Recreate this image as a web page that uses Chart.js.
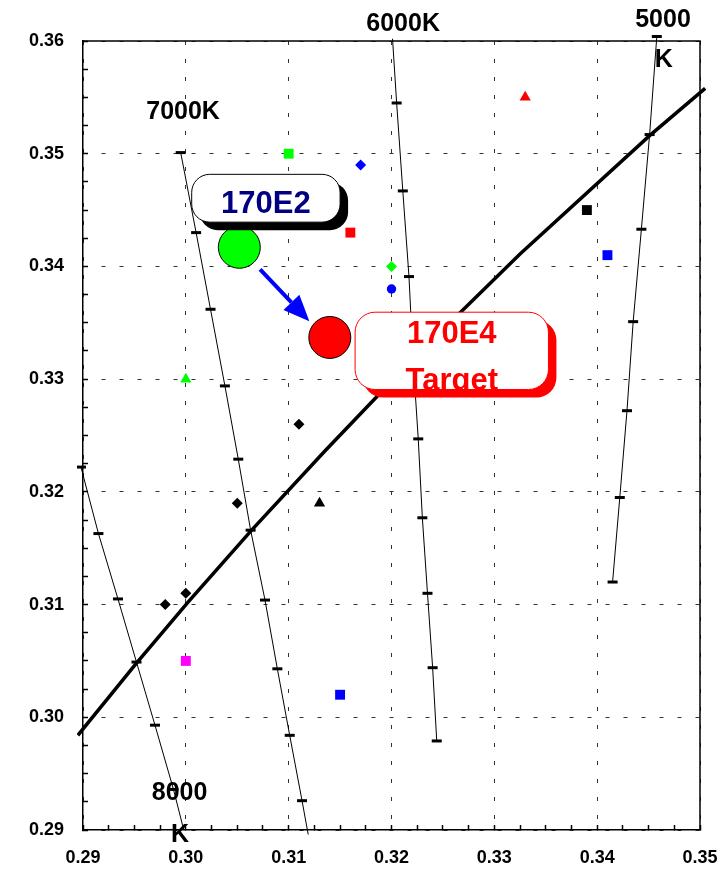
<!DOCTYPE html>
<html>
<head>
<meta charset="utf-8">
<script src="https://cdn.jsdelivr.net/npm/chart.js@4"></script>
<style>
  html, body { margin: 0; padding: 0; background: #fff; }
</style>
</head>
<body>
<canvas id="myChart" width="724" height="871"></canvas>
<script>
// axis ranges (CIE x, y)
const xRange = [0.29, 0.35];
const yRange = [0.29, 0.36];

// Planckian locus
const locusX = [0.2895, 0.2952, 0.3003, 0.3064, 0.3135, 0.3221, 0.3325, 0.3451, 0.3505];
const locusY = [0.2984, 0.3048, 0.3103, 0.3166, 0.3236, 0.3318, 0.3411, 0.3516, 0.3558];

// isotemperature lines
const iso8000X = [0.2898, 0.2915, 0.2934, 0.2952, 0.2970, 0.2988, 0.2998];
const iso8000Y = [0.3222, 0.3163, 0.3105, 0.3049, 0.2993, 0.2936, 0.2900];
const iso7000X = [0.2995, 0.3010, 0.3024, 0.3038, 0.3051, 0.3063, 0.3077, 0.3089, 0.3101, 0.3113, 0.3119];
const iso7000Y = [0.3501, 0.3430, 0.3362, 0.3294, 0.3229, 0.3166, 0.3104, 0.3043, 0.2984, 0.2926, 0.2896];
const iso6000X = [0.3201, 0.3205, 0.3211, 0.3217, 0.3221, 0.3226, 0.3230, 0.3235, 0.3240, 0.3244];
const iso6000Y = [0.3602, 0.3545, 0.3467, 0.3391, 0.3317, 0.3247, 0.3177, 0.3110, 0.3044, 0.2979];
const iso5000X = [0.3458, 0.3451, 0.3443, 0.3435, 0.3429, 0.3422, 0.3415];
const iso5000Y = [0.3604, 0.3517, 0.3433, 0.3351, 0.3272, 0.3195, 0.3120];

// sample points by marker shape
const squareX = [0.310, 0.316, 0.339, 0.341, 0.300, 0.315];
const squareY = [0.350, 0.343, 0.345, 0.341, 0.305, 0.302];
const diamondX = [0.317, 0.320, 0.311, 0.305, 0.298, 0.300];
const diamondY = [0.349, 0.340, 0.326, 0.319, 0.310, 0.311];
const triangleX = [0.333, 0.300, 0.313];
const triangleY = [0.355, 0.330, 0.319];
const circleX = [0.320];
const circleY = [0.338];

// lamps: 170E2 -> 170E4 target
const lampNames = ['170E2', '170E4'];
const lampX = [0.3052, 0.3140];
const lampY = [0.3417, 0.3337];

// colours (style, kept apart from the values)
const squareColors = ['#00ff00', '#ff0000', '#000000', '#0000ff', '#ff00ff', '#0000ff'];
const diamondColors = ['#0000ff', '#00ff00', '#000000', '#000000', '#000000', '#000000'];
const triangleColors = ['#ff0000', '#00ff00', '#000000'];
const lampColors = ['#00ff00', '#ff0000'];

const FONT = "'Liberation Sans', Arial, sans-serif";
Chart.defaults.font.family = FONT;

const pts = (xs, ys) => xs.map((x, i) => ({ x: x, y: ys[i] }));
const isMajor = v => Math.abs(v * 100 - Math.round(v * 100)) < 1e-6;

// ends of isolines that carry no tick mark
function tickRadius(bare) {
    return c => bare.includes(c.dataIndex) ? 0 : 5;
}

function isoLine(xs, ys, bare) {
    return {
        data: pts(xs, ys),
        showLine: true,
        borderColor: '#000',
        borderWidth: 1,
        pointStyle: 'line',
        pointRadius: tickRadius(bare),
        pointBorderWidth: 3,
        pointBorderColor: '#000',
        clip: 6
    };
}

// everything that is not a data mark: frame, arrow, callouts, CCT labels
const overlay = {
    id: 'overlay',
    afterDatasetsDraw(chart) {
        const { ctx, scales: { x, y }, chartArea: a } = chart;
        const px = v => x.getPixelForValue(v);
        const py = v => y.getPixelForValue(v);
        ctx.save();

        // top and right frame
        ctx.strokeStyle = '#000';
        ctx.lineWidth = 1.5;
        ctx.beginPath();
        ctx.moveTo(a.left, a.top);
        ctx.lineTo(a.right, a.top);
        ctx.lineTo(a.right, a.bottom);
        ctx.stroke();

        // arrow from 170E2 to 170E4
        const x0 = px(0.30722), y0 = py(0.33973), x1 = px(0.31201), y1 = py(0.33514);
        const ang = Math.atan2(y1 - y0, x1 - x0);
        const headLen = 26, headW = 11;
        const bx = x1 - headLen * Math.cos(ang), by = y1 - headLen * Math.sin(ang);
        ctx.strokeStyle = '#0000ff';
        ctx.fillStyle = '#0000ff';
        ctx.lineWidth = 4;
        ctx.beginPath();
        ctx.moveTo(x0, y0);
        ctx.lineTo(bx, by);
        ctx.stroke();
        ctx.beginPath();
        ctx.moveTo(x1, y1);
        ctx.lineTo(bx + headW * Math.sin(ang), by - headW * Math.cos(ang));
        ctx.lineTo(bx - headW * Math.sin(ang), by + headW * Math.cos(ang));
        ctx.closePath();
        ctx.fill();

        // callout boxes
        const callouts = [
            { box: [0.30057, 0.34817, 0.31500, 0.34393], r: 18, color: '#000080', border: '#000', shadow: '#000',
              lines: [['170E2', 0.34477]] },
            { box: [0.31646, 0.33594, 0.33526, 0.32908], r: 20, color: '#ff0000', border: '#ff0000', shadow: '#ff0000',
              lines: [['170E4', 0.33322], ['Target', 0.32908]] }
        ];
        callouts.forEach(c => {
            const l = px(c.box[0]), t = py(c.box[1]), r = px(c.box[2]), b = py(c.box[3]);
            const w = r - l, h = b - t;
            ctx.fillStyle = c.shadow;
            ctx.beginPath();
            ctx.roundRect(l + 8, t + 8, w, h, c.r);
            ctx.fill();
            ctx.fillStyle = '#fff';
            ctx.strokeStyle = c.border;
            ctx.lineWidth = 1;
            ctx.beginPath();
            ctx.roundRect(l, t, w, h, c.r);
            ctx.fill();
            ctx.stroke();
            ctx.save();
            ctx.beginPath();
            ctx.rect(l, t, w, h);
            ctx.clip();
            ctx.fillStyle = c.color;
            ctx.font = 'bold 31px ' + FONT;
            ctx.textAlign = 'center';
            ctx.textBaseline = 'alphabetic';
            c.lines.forEach(([txt, yv]) => ctx.fillText(txt, (l + r) / 2, py(yv)));
            ctx.restore();
        });

        // colour temperature labels
        const cct = [
            ['7000K', 0.29973, 0.35305],
            ['6000K', 0.32113, 0.36090],
            ['5000', 0.34640, 0.36120],
            ['K', 0.34647, 0.35765],
            ['8000', 0.29939, 0.29266],
            ['K', 0.29944, 0.28896]
        ];
        ctx.fillStyle = '#000';
        ctx.font = 'bold 25px ' + FONT;
        ctx.textAlign = 'center';
        ctx.textBaseline = 'alphabetic';
        cct.forEach(([txt, xv, yv]) => ctx.fillText(txt, px(xv), py(yv)));

        ctx.restore();
    }
};

const axisStyle = (min, max, fit) => ({
    type: 'linear',
    min: min,
    max: max,
    afterFit: fit,
    ticks: {
        stepSize: 0.0025,
        autoSkip: false,
        maxRotation: 0,
        minRotation: 0,
        color: '#000',
        font: { size: 18, weight: 'bold' },
        callback: v => isMajor(v) ? v.toFixed(2) : ''
    },
    grid: {
        color: c => (c.tick && isMajor(c.tick.value)) ? '#333' : 'rgba(0,0,0,0)',
        lineWidth: 1,
        tickColor: '#000',
        tickLength: -5,
        tickWidth: 1.5
    },
    border: { color: '#000', width: 1.5, dash: [4, 14] }
});

const scaleX = axisStyle(xRange[0], xRange[1], s => {
    s.height = 41;
    s.paddingLeft = 0;
    s.paddingRight = 0;
});
scaleX.ticks.padding = 22;
const scaleY = axisStyle(yRange[0], yRange[1], s => {
    s.width = 83;
    s.paddingTop = 0;
    s.paddingBottom = 0;
});
scaleY.ticks.padding = 24;

const ctx = document.getElementById('myChart').getContext('2d');
new Chart(ctx, {
    type: 'scatter',
    data: {
        datasets: [
            {
                label: 'lamps',
                data: pts(lampX, lampY),
                pointRadius: 21,
                pointBackgroundColor: lampColors,
                pointBorderColor: '#000',
                pointBorderWidth: 1
            },
            {
                data: pts(circleX, circleY),
                pointStyle: 'circle',
                pointRadius: 4.7,
                pointBackgroundColor: '#0000ff',
                pointBorderColor: '#0000ff',
                pointBorderWidth: 0
            },
            {
                data: pts(triangleX, triangleY),
                pointStyle: 'triangle',
                pointRadius: 6.5,
                pointBackgroundColor: triangleColors,
                pointBorderColor: triangleColors,
                pointBorderWidth: 0
            },
            {
                data: pts(diamondX, diamondY),
                pointStyle: 'rectRot',
                pointRadius: 5.5,
                pointBackgroundColor: diamondColors,
                pointBorderColor: diamondColors,
                pointBorderWidth: 0
            },
            {
                data: pts(squareX, squareY),
                pointStyle: 'rect',
                pointRadius: 7,
                pointBackgroundColor: squareColors,
                pointBorderColor: squareColors,
                pointBorderWidth: 0
            },
            {
                label: 'Planckian locus',
                data: pts(locusX, locusY),
                showLine: true,
                borderColor: '#000',
                borderWidth: 3.5,
                pointRadius: 0,
                clip: 6
            },
            isoLine(iso8000X, iso8000Y, [6]),
            isoLine(iso7000X, iso7000Y, [10]),
            isoLine(iso6000X, iso6000Y, [0]),
            isoLine(iso5000X, iso5000Y, [])
        ]
    },
    options: {
        responsive: false,
        animation: false,
        layout: { padding: { top: 41, right: 24, left: 0, bottom: 0 } },
        plugins: { legend: { display: false }, tooltip: { enabled: false } },
        scales: { x: scaleX, y: scaleY }
    },
    plugins: [overlay]
});
</script>
</body>
</html>
